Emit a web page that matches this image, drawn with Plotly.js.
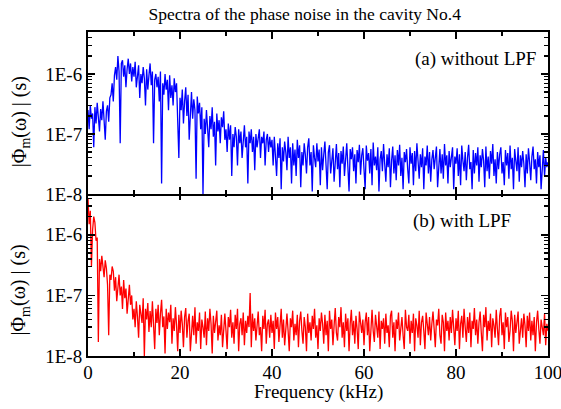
<!DOCTYPE html>
<html>
<head>
<meta charset="utf-8">
<script src="https://cdn.plot.ly/plotly-3.0.1.min.js"></script>
<style>html,body{margin:0;padding:0;background:#fff;}#chart{width:561px;height:409px;}</style>
</head>
<body>
<div id="chart"></div>
<script>
// Frequency grid (kHz): samples every 0.25 kHz from 0 to 100
const FREQ_START_KHZ = 0;
const FREQ_STEP_KHZ = 0.25;

// Values are in units of 1E-8 s
const VALUE_UNIT = 1e-8;

// (a) without LPF  — |Phi_m(omega)|
const withoutLPF = [
  25, 12, 30, 18, 22, 6, 28, 15, 33, 20, 11, 26, 17, 35, 14, 8, 24, 30, 16, 40,
  45, 70, 35, 95, 130, 80, 200, 110, 7, 150, 170, 90, 140, 60, 120, 180, 100, 150, 75, 130,
  90, 160, 60, 110, 140, 40, 100, 70, 130, 85, 30, 120, 55, 95, 150, 65, 110, 7, 80, 100,
  60, 90, 35, 110, 1.5, 70, 45, 100, 55, 80, 25, 95, 40, 65, 30, 85, 50, 70, 20, 4,
  40, 25, 55, 15, 35, 60, 20, 45, 8, 30, 50, 18, 38, 25, 1.8, 42, 22, 33, 12, 28,
  1.0, 18, 10, 25, 14, 6, 20, 12, 28, 9, 16, 3, 22, 11, 17, 7, 19, 13, 24, 8,
  12, 5, 15, 8, 14, 2, 10, 6, 13, 9, 3, 12, 7, 11, 4, 10, 14, 6, 9, 1.5,
  11, 7, 12, 5, 9, 2.5, 10, 6, 8, 12, 4, 9, 7, 11, 3, 8, 10, 5, 9, 6,
  8, 3, 9, 5, 2, 7, 4, 8.5, 1.2, 6, 3.5, 7.5, 5, 2.5, 9, 4, 6, 1.5, 7, 3,
  5.5, 2, 8, 4, 6.5, 1.3, 5, 3, 7, 4.5, 2.2, 6, 8.5, 3, 5, 1.1, 6.5, 4, 2.8, 7,
  3.5, 5.5, 1.4, 6, 2.5, 4.5, 7.5, 3, 1.2, 5, 6.5, 2.2, 4, 5.8, 1.6, 3.6, 6.8, 2.6, 4.8, 1.3,
  5.2, 3.2, 6.2, 2, 4.2, 7, 2.8, 1.1, 5.6, 3.8, 6, 2.4, 4.6, 1.5, 5.4, 3.4, 6.6, 2.1, 4.4, 5.8,
  2.6, 1.2, 6.4, 3.6, 4.8, 2.2, 5.6, 1.4, 7.2, 3, 4.2, 2.5, 6, 1.1, 3.8, 5.2, 2.4, 6.8, 3.2, 1.6,
  4.6, 2.8, 5.8, 1.3, 3.6, 6.2, 2.2, 4.4, 1.7, 5.4, 3, 6.6, 2, 4, 1.2, 5, 3.4, 5.6, 2.6, 1.5,
  6, 3.2, 4.8, 1.4, 5.2, 2.4, 7, 3.6, 1.8, 4.6, 2.8, 5.8, 1.2, 4.2, 3, 6.4, 2.2, 5, 1.6, 3.8,
  5.4, 2.6, 4, 6.2, 1.3, 3.4, 5.6, 2.2, 4.6, 1.8, 6.8, 3, 4.4, 1.5, 5.2, 2.8, 3.8, 6, 1.2, 4.2,
  3.2, 5.8, 2, 4.6, 1.4, 6.4, 3.6, 2.4, 5, 1.7, 4, 6.6, 2.6, 3.4, 1.2, 5.4, 2.2, 4.8, 3, 6,
  1.6, 4.4, 2.8, 5.6, 3.6, 1.3, 6.2, 2.4, 4.2, 1.8, 5.2, 3.2, 6.8, 2, 3.8, 1.5, 5, 2.6, 4.6, 6,
  2.2, 3.4, 1.4, 5.4, 3, 4.8, 1.8, 6.4, 2.6, 4, 1.2, 5.6, 3.6, 2.4, 6, 1.6, 4.4, 2.8, 5.2, 3.2,
  1.3, 4.6, 2.2, 5.8, 3.4, 1.7, 4.2, 6.2, 2.6, 3.8, 1.5, 5, 2.8, 4.4, 1.2, 3.6, 5.4, 2, 4, 2.8,
  3.4
];

// (b) with LPF
const withLPF = [
  400, 150, 250, 30, 120, 200, 160, 80, 90, 1.7, 40, 25, 45, 30, 20, 38, 28, 15, 2.2, 22,
  18, 30, 25, 12, 20, 8, 16, 22, 10, 14, 6, 18, 9, 13, 5, 11, 15, 7, 10, 4,
  6, 3, 8, 4.5, 2, 7, 5, 3.5, 9, 1, 6, 4, 7.5, 2.5, 5.5, 3, 8, 4, 1.3, 6,
  3.5, 7, 2.2, 5, 8.5, 3, 4.5, 1.1, 6, 2.8, 5.2, 3.6, 7, 1.6, 4.2, 2.6, 6.4, 3.2, 1.2, 4.8,
  2.4, 5.6, 3.4, 1.4, 4.4, 6.2, 2, 3.8, 5, 1.2, 3, 4.6, 2.2, 6.4, 1.6, 3.6, 2.6, 5.2, 1.3, 4,
  3, 2, 5.4, 1.5, 4.2, 2.6, 6, 3.4, 1.1, 4.6, 2.4, 3.8, 5.6, 1.8, 3.2, 2.2, 4.8, 1.4, 3.6, 5,
  2.6, 1.3, 4.4, 3, 5.8, 2, 3.6, 1.6, 4.8, 2.8, 6, 1.2, 3.4, 4.2, 2.2, 5.2, 1.5, 3.8, 2.4, 4.6,
  3, 11, 1.4, 5, 2.6, 4.2, 1.8, 3.6, 5.4, 2.2, 3, 1.2, 4.6, 2.8, 5.8, 1.6, 3.4, 4, 2, 4.8,
  2.4, 3.8, 1.3, 5.2, 2.8, 4.4, 1.7, 3.2, 6, 2, 4, 1.5, 3.6, 5, 2.6, 1.2, 4.2, 3, 5.6, 1.8,
  3.4, 2.2, 4.8, 1.4, 3.8, 5.4, 2.6, 1.6, 4.4, 3, 1.2, 5, 2.4, 3.6, 1.8, 4.6, 2.8, 6, 2, 3.2,
  1.3, 4.2, 2.6, 5.2, 3.4, 1.6, 4.8, 2.2, 3.8, 1.2, 5.6, 2.8, 4, 1.5, 3.2, 6.2, 2.4, 1.8, 4.4, 3,
  6.4, 2, 3.6, 1.4, 5, 2.6, 4.2, 1.2, 3.4, 5.8, 2.2, 3.8, 1.6, 4.6, 2.8, 1.3, 5.4, 3, 2.4, 4,
  1.5, 3.6, 5.2, 2.2, 4.4, 1.2, 3, 5.8, 2.6, 1.7, 4.8, 3.4, 2, 5.4, 1.3, 3.8, 2.8, 4.2, 1.6, 5,
  2.4, 3.2, 1.4, 4.6, 5.6, 2, 3.6, 1.2, 4, 2.8, 5.2, 1.8, 3.4, 4.4, 2.2, 1.3, 5.8, 3, 2.6, 4.8,
  1.6, 3.8, 2.4, 5, 1.2, 4.2, 3.2, 2, 5.6, 1.5, 3.6, 4.6, 2.6, 1.3, 5.2, 3, 2.2, 4.4, 1.8, 3.4,
  5.4, 2.8, 1.4, 4, 3.2, 6, 2.2, 1.6, 4.8, 3.6, 1.2, 5.2, 2.6, 3.8, 1.8, 4.4, 2.4, 5.8, 3, 1.5,
  4.2, 2.6, 5.6, 1.3, 3.4, 4.6, 2, 6, 3, 1.7, 4.4, 2.4, 5.2, 1.4, 3.8, 2.8, 6.2, 2.2, 4, 1.6,
  3.6, 5.4, 2.4, 1.2, 4.8, 3, 6.4, 1.8, 3.8, 2.6, 5, 1.4, 4.2, 3.2, 2, 5.8, 2.8, 1.5, 4.6, 6.2,
  2.2, 3.6, 1.3, 5.2, 3, 4.4, 1.7, 2.6, 5.6, 3.8, 1.2, 4.8, 2.4, 3.4, 5.4, 1.6, 2.8, 4.2, 2, 5,
  3.2, 1.4, 4.6, 2.6, 5.2, 1.8, 3.8, 2.2, 4.4, 1.2, 3.6, 5.6, 2.8, 1.6, 4, 3, 2.2, 5, 1.5, 3.4,
  2.6
];

const xTickVals = [0, 20, 40, 60, 80, 100];
const xMinorVals = [10, 30, 50, 70, 90];
const yTickVals = [1e-8, 1e-7, 1e-6];
const yTickText = ['1E-8', '1E-7', '1E-6'];
const yMinorVals = [2e-8,3e-8,4e-8,5e-8,6e-8,7e-8,8e-8,9e-8,
                    2e-7,3e-7,4e-7,5e-7,6e-7,7e-7,8e-7,9e-7,
                    2e-6,3e-6,4e-6];

const titleText = 'Spectra of the phase noise in the cavity No.4';
const xTitle = 'Frequency (kHz)';
const yTitle = '|Φ<sub>m</sub>(ω) | (s)';
const labelA = '(a) without LPF';
const labelB = '(b) with LPF';

const freqA = withoutLPF.map((_, i) => FREQ_START_KHZ + i * FREQ_STEP_KHZ);
const freqB = withLPF.map((_, i) => FREQ_START_KHZ + i * FREQ_STEP_KHZ);

const FONT = '"Liberation Serif", serif';

const traces = [
  {x: freqA, y: withoutLPF.map(v => v * VALUE_UNIT), xaxis: 'x2', yaxis: 'y2', type: 'scatter', mode: 'lines',
   line: {color: '#0000ff', width: 1.3}, hoverinfo: 'skip'},
  {x: freqB, y: withLPF.map(v => v * VALUE_UNIT), xaxis: 'x', yaxis: 'y', type: 'scatter', mode: 'lines',
   line: {color: '#ff0000', width: 1.3}, hoverinfo: 'skip'}
];

const xCommon = {
  range: [0, 100], tickmode: 'array', tickvals: xTickVals, ticks: 'inside', ticklen: 7, tickwidth: 1.5,
  tickcolor: '#000', showline: true, linewidth: 2, linecolor: '#000', mirror: 'ticks', showgrid: false, zeroline: false,
  ticklabeloverflow: 'allow', ticklabelstandoff: -2,
  minor: {tickmode: 'array', tickvals: xMinorVals, ticks: 'inside', ticklen: 4, tickwidth: 1.5, tickcolor: '#000', showgrid: false},
  tickfont: {family: FONT, size: 19, color: '#000'}
};
const yCommon = {
  type: 'log', tickmode: 'array', tickvals: yTickVals, ticktext: yTickText, ticks: 'inside', ticklen: 7, tickwidth: 1.5,
  tickcolor: '#000', showline: true, linewidth: 2, linecolor: '#000', mirror: 'ticks', showgrid: false, zeroline: false,
  minor: {tickmode: 'array', tickvals: yMinorVals, ticks: 'inside', ticklen: 4, tickwidth: 1.2, tickcolor: '#000', showgrid: false},
  tickfont: {family: FONT, size: 19, color: '#000'}
};

const layout = {
  width: 561, height: 409,
  margin: {l: 88, r: 12.5, t: 32, b: 52.5},
  paper_bgcolor: '#fff', plot_bgcolor: '#fff',
  showlegend: false,
  font: {family: FONT, color: '#000', size: 19},
  title: {text: titleText, font: {family: FONT, size: 17.5, color: '#000'},
          xref: 'paper', x: 0.471, xanchor: 'center', yref: 'container', y: 0.965, yanchor: 'middle'},
  xaxis: Object.assign({}, xCommon, {anchor: 'y', domain: [0, 1]}),
  xaxis2: Object.assign({}, xCommon, {anchor: 'y2', domain: [0, 1], matches: 'x', showticklabels: false}),
  yaxis: Object.assign({}, yCommon, {anchor: 'x', domain: [0, 0.503], range: [-8, -5.31]}),
  yaxis2: Object.assign({}, yCommon, {anchor: 'x2', domain: [0.5, 1], range: [-8, -5.3]}),
  annotations: [
    {text: labelA, xref: 'paper', yref: 'paper', x: 0.978, y: 0.916, xanchor: 'right', yanchor: 'middle',
     showarrow: false, font: {family: FONT, size: 19, color: '#000'}},
    {text: labelB, xref: 'paper', yref: 'paper', x: 0.923, y: 0.418, xanchor: 'right', yanchor: 'middle',
     showarrow: false, font: {family: FONT, size: 19, color: '#000'}},
    {text: xTitle, xref: 'paper', yref: 'paper', x: 0.5, y: -0.1105, xanchor: 'center', yanchor: 'middle',
     showarrow: false, font: {family: FONT, size: 19, color: '#000'}},
    {text: yTitle, xref: 'paper', yref: 'paper', x: -0.148, y: 0.7245, xanchor: 'center', yanchor: 'middle',
     textangle: -90, showarrow: false, font: {family: FONT, size: 20, color: '#000'}},
    {text: yTitle, xref: 'paper', yref: 'paper', x: -0.148, y: 0.205, xanchor: 'center', yanchor: 'middle',
     textangle: -90, showarrow: false, font: {family: FONT, size: 20, color: '#000'}}
  ]
};

Plotly.newPlot('chart', traces, layout, {staticPlot: true, displayModeBar: false});
</script>
</body>
</html>
